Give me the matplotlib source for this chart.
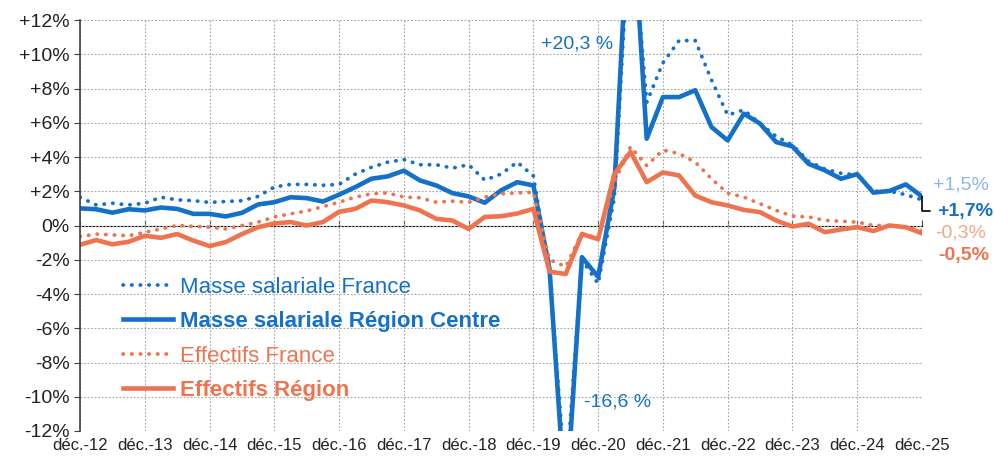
import numpy as np
import matplotlib
matplotlib.use("Agg")
import matplotlib.pyplot as plt
from matplotlib.ticker import FuncFormatter

plt.rcParams['font.family'] = ['Liberation Sans', 'DejaVu Sans']

# trimestres de déc.-12 à déc.-25
annees = ['déc.-%d' % a for a in range(12, 26)]
n_trim = 53

masse_france = [1.65, 1.2, 1.3, 1.2, 1.3, 1.65, 1.5, 1.45, 1.35, 1.4, 1.45, 1.7,
                2.25, 2.4, 2.4, 2.35, 2.4, 3.0, 3.4, 3.7, 3.85, 3.55, 3.55, 3.35,
                3.55, 2.65, 3.0, 3.7, 2.9, -2.8, -15.0, -2.0, -3.4, 1.6, 18.5, 7.2,
                9.5, 10.8, 10.8, 8.5, 6.45, 6.75, 5.95, 5.2, 4.7, 3.75, 3.3, 3.05,
                2.95, 2.0, 2.0, 1.8, 1.5]
masse_region = [1.0, 0.95, 0.75, 0.95, 0.88, 1.05, 0.97, 0.68, 0.68, 0.53, 0.74, 1.23,
                1.36, 1.65, 1.6, 1.4, 1.8, 2.24, 2.73, 2.87, 3.2, 2.63, 2.34, 1.89,
                1.7, 1.33, 2.05, 2.53, 2.34, -2.55, -16.6, -1.85, -3.0, 2.2, 20.3, 5.07,
                7.5, 7.5, 7.9, 5.75, 4.97, 6.53, 5.95, 4.87, 4.62, 3.6, 3.22, 2.73,
                3.0, 1.92, 2.02, 2.4, 1.7]
eff_france = [-0.65, -0.5, -0.55, -0.6, -0.4, -0.2, 0.0, -0.05, -0.1, -0.2, 0.0, 0.2,
              0.5, 0.68, 0.85, 1.1, 1.36, 1.66, 1.85, 1.9, 1.66, 1.62, 1.36, 1.42,
              1.35, 1.66, 1.85, 1.9, 1.95, -2.0, -2.4, -0.45, -0.75, 2.5, 4.6, 3.5,
              4.4, 4.2, 3.7, 2.73, 1.89, 1.66, 1.27, 0.88, 0.55, 0.5, 0.3, 0.25,
              0.2, 0.0, 0.0, -0.1, -0.3]
eff_region = [-1.13, -0.85, -1.1, -0.95, -0.6, -0.72, -0.5, -0.88, -1.2, -0.97, -0.5, -0.1,
              0.12, 0.2, 0.0, 0.2, 0.8, 0.97, 1.46, 1.36, 1.17, 0.88, 0.39, 0.29,
              -0.2, 0.5, 0.54, 0.7, 0.97, -2.7, -2.83, -0.5, -0.8, 3.0, 4.3, 2.53,
              3.1, 2.92, 1.75, 1.36, 1.17, 0.91, 0.78, 0.29, -0.06, 0.1, -0.39, -0.23,
              -0.1, -0.32, 0.0, -0.1, -0.45]

bleu = '#1570C8'
orange = '#EE7450'
bleu_clair = '#8DB6E6'
orange_clair = '#F2A68C'

x = np.arange(n_trim)

fig = plt.figure(figsize=(9.95, 4.57), dpi=100)
ax = fig.add_axes([0.0804, 0.0569, 0.8462, 0.8993])

pointille = (0, (0.1, 2.2))
l1, = ax.plot(x, masse_france, color=bleu, lw=2.7, ls=pointille,
              dash_capstyle='round', label='Masse salariale France')
l2, = ax.plot(x, masse_region, color=bleu, lw=3.3,
              label='Masse salariale Région Centre')
l3, = ax.plot(x, eff_france, color=orange, lw=2.7, ls=pointille,
              dash_capstyle='round', label='Effectifs France')
l4, = ax.plot(x, eff_region, color=orange, lw=3.3, label='Effectifs Région')

ax.set_xlim(0, n_trim - 1)
ax.set_ylim(-12, 12)

ax.set_xticks(np.arange(0, n_trim, 4))
ax.set_xticklabels(annees, fontsize=12, color='#222222')
ax.set_yticks(np.arange(-12, 13, 2))
ax.yaxis.set_major_formatter(FuncFormatter(
    lambda v, p: '0%' if v == 0 else ('+%d%%' % v if v > 0 else '-%d%%' % -v)))
ax.tick_params(axis='y', labelsize=14, length=4, color='#404040', labelcolor='#222222')
ax.tick_params(axis='x', length=0, pad=5)

ax.grid(True, color='#A8A8A8', lw=0.8, ls=(0, (1.6, 1.6)))
ax.set_axisbelow(True)
for s in ['top', 'right', 'bottom']:
    ax.spines[s].set_visible(False)
ax.spines['left'].set_color('#404040')
ax.spines['left'].set_linewidth(1.2)

# axe du zéro avec petites graduations
axe0 = ax.secondary_xaxis(0.5)
axe0.set_xticks(np.arange(0, n_trim, 4))
axe0.set_xticklabels([])
axe0.tick_params(length=4, color='#404040', direction='out')
axe0.spines['bottom'].set_color('#404040')
axe0.spines['bottom'].set_linewidth(1.2)

leg = ax.legend(handles=[l1, l2, l3, l4], loc='upper left', bbox_to_anchor=(0.051, 0.375),
                frameon=False, fontsize=16, handlelength=2.25, handletextpad=0.3,
                labelspacing=0.6, borderpad=0, borderaxespad=0, labelcolor='linecolor')
for t in (leg.get_texts()[1], leg.get_texts()[3]):
    t.set_fontweight('bold')

def fmt(v, plus=True, espace=''):
    s = ('%+.1f' % v) if plus else ('%.1f' % v)
    return s.replace('.', ',') + espace + '%'

i_max = int(np.argmax(masse_region))
i_min = int(np.argmin(masse_region))
ax.text(i_max - 3.3, 10.6, fmt(masse_region[i_max], espace=' '), color=bleu,
        fontsize=14, ha='center', va='center')
ax.text(i_min + 3.2, -10.3, fmt(masse_region[i_min], espace=' '), color=bleu,
        fontsize=14, ha='center', va='center')

der = n_trim - 1
ax.text(der + 2.4, 2.34, fmt(masse_france[der]), color=bleu_clair, fontsize=14,
        ha='center', va='center', clip_on=False)
ax.annotate(fmt(masse_region[der]), xy=(der, masse_region[der]), xytext=(der + 0.95, 0.82),
            color=bleu, fontsize=14, fontweight='bold', ha='left', va='center',
            annotation_clip=False,
            arrowprops=dict(arrowstyle='-', color='black', lw=1.2, shrinkA=3, shrinkB=0,
                            connectionstyle='angle,angleA=0,angleB=90,rad=0'))
ax.text(der + 2.4, -0.41, fmt(eff_france[der]), color=orange_clair, fontsize=14,
        ha='center', va='center', clip_on=False)
ax.text(der + 2.55, -1.75, fmt(eff_region[der]), color=orange, fontsize=14,
        fontweight='bold', ha='center', va='center', clip_on=False)

fig.savefig('out.png', dpi=100)
